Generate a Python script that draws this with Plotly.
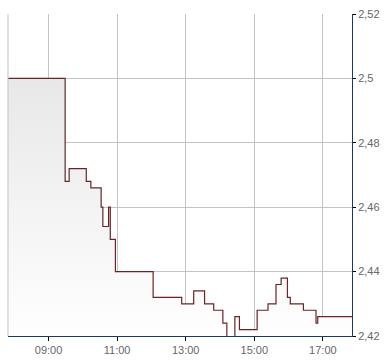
import plotly.graph_objects as go

day = "2024-01-02 "
times = ["07:49", "09:29", "09:36", "10:06", "10:14", "10:32", "10:35", "10:45", "10:48",
         "10:57", "12:03", "12:53", "13:14", "13:33", "13:49", "14:05", "14:12", "14:26",
         "14:34", "15:05", "15:24", "15:38", "15:47", "15:58", "16:03", "16:26", "16:48",
         "16:51", "17:51"]
prices = [2.500, 2.468, 2.472, 2.468, 2.466, 2.460, 2.454, 2.460, 2.450,
          2.440, 2.432, 2.430, 2.434, 2.430, 2.428, 2.424, 2.418, 2.426,
          2.422, 2.428, 2.430, 2.436, 2.438, 2.432, 2.430, 2.428, 2.424,
          2.426, 2.426]
y_ticks = [2.42, 2.44, 2.46, 2.48, 2.50, 2.52]
x_ticks = ["09:00", "11:00", "13:00", "15:00", "17:00"]

x = [day + t for t in times]

fig = go.Figure()
fig.add_trace(go.Scatter(
    x=x, y=prices, mode="lines", line=dict(shape="hv", color="#6a2428", width=1.2),
    fill="tozeroy",
    fillgradient=dict(type="vertical", start=2.42, stop=2.50,
                      colorscale=[[0, "#ffffff"], [1, "#e8e8e8"]]),
    hoverinfo="skip",
))

fig.add_shape(type="line", xref="paper", yref="paper", x0=0, x1=0, y0=0, y1=1,
              line=dict(color="#c3c3c3", width=1))

fig.update_layout(
    width=390, height=364,
    margin=dict(l=8, r=38, t=12, b=24),
    paper_bgcolor="white", plot_bgcolor="white",
    separators=",.",
    showlegend=False,
    font=dict(family="Liberation Sans", size=11, color="#666666"),
    xaxis=dict(
        type="date", range=[day + "07:49", day + "17:51"],
        tickvals=[day + t for t in x_ticks], ticktext=x_ticks,
        showgrid=True, gridcolor="#c3c3c3", gridwidth=1,
        showline=True, linecolor="#1a3a66", linewidth=1,
        ticks="outside", ticklen=4, tickcolor="#000000",
        zeroline=False,
    ),
    yaxis=dict(
        side="right", range=[2.42, 2.52],
        tickvals=y_ticks, tickformat=".2~f",
        showgrid=True, gridcolor="#c3c3c3", gridwidth=1,
        showline=True, linecolor="#1a3a66", linewidth=1,
        ticks="outside", ticklen=3, tickcolor="#000000",
        zeroline=False,
    ),
)

fig.write_html("out.html")
